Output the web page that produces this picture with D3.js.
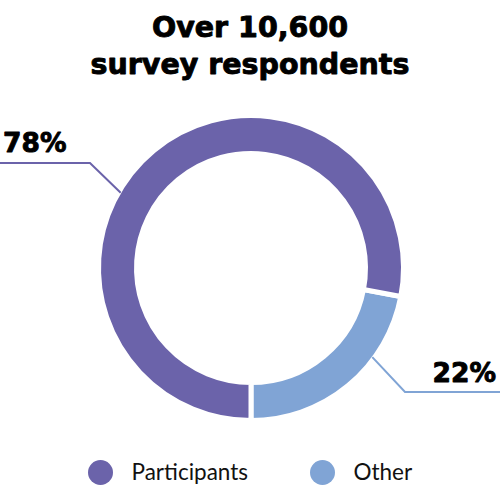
<!DOCTYPE html>
<html>
<head>
<meta charset="utf-8">
<script src="https://cdn.jsdelivr.net/npm/d3@7"></script>
<style>
  html, body { margin: 0; padding: 0; background: #ffffff; }
  svg { display: block; }
</style>
</head>
<body>
<svg id="chart" width="500" height="500"></svg>
<script>
// ---- data ----
const titleLines = ["Over 10,600", "survey respondents"];
const categories = ["Other", "Participants"];
const values = [22, 78];
const labels = ["22%", "78%"];
const legendOrder = ["Participants", "Other"];
const colors = ["#80a4d5", "#6b63aa"];

// ---- layout ----
const W = 500, H = 500;
const cx = 251, cy = 268;
const outerR = 152.5, innerR = 114.5;
const gap = 5;

const svg = d3.select("#chart");
const color = d3.scaleOrdinal().domain(categories).range(colors);

// title
svg.append("g").selectAll("text").data(titleLines).join("text")
  .attr("x", 250)
  .attr("y", (d, i) => 36.5 + i * 37)
  .attr("text-anchor", "middle")
  .attr("font-family", "DejaVu Sans")
  .attr("font-weight", "bold")
  .attr("font-size", 28.5)
  .attr("fill", "#000")
  .attr("stroke", "#000")
  .attr("stroke-width", 0.9)
  .attr("stroke-linejoin", "round")
  .text(d => d);

// donut (counter-clockwise from bottom)
const table = categories.map((c, i) => ({ cat: c, value: values[i], label: labels[i] }));
const pie = d3.pie().value(d => d.value).sort(null)
  .startAngle(Math.PI).endAngle(-Math.PI);
const arcs = pie(table);
const arc = d3.arc().innerRadius(innerR).outerRadius(outerR);

const g = svg.append("g").attr("transform", `translate(${cx},${cy})`);
g.selectAll("path").data(arcs).join("path")
  .attr("d", arc)
  .attr("fill", d => color(d.data.cat))
  .attr("stroke", "#fff")
  .attr("stroke-width", gap)
  .attr("stroke-linejoin", "miter");

// leader lines and labels
const leaders = {
  "Participants": { angle: -60, elbow: [90, 163], end: [0, 163], tx: 3, ty: 151.5, anchor: "start" },
  "Other": { angle: 126.3, elbow: [405, 392], end: [500, 392], tx: 496, ty: 381.5, anchor: "end" }
};
const rLine = 150.5;
arcs.forEach(a => {
  const L = leaders[a.data.cat];
  const t = L.angle * Math.PI / 180;
  const p0 = [cx + rLine * Math.sin(t), cy - rLine * Math.cos(t)];
  svg.append("polyline")
    .attr("points", [p0, L.elbow, L.end].map(p => p.join(",")).join(" "))
    .attr("fill", "none")
    .attr("stroke", color(a.data.cat))
    .attr("stroke-width", 2);
  svg.append("text")
    .attr("x", L.tx).attr("y", L.ty)
    .attr("text-anchor", L.anchor)
    .attr("font-family", "DejaVu Sans")
    .attr("font-weight", "bold")
    .attr("font-size", 26.5)
    .attr("fill", "#000")
    .attr("stroke", "#000")
    .attr("stroke-width", 0.9)
    .attr("stroke-linejoin", "round")
    .text(a.data.label);
});

// legend
const legendX = { "Participants": 100.5, "Other": 322.5 };
const legendY = 472.5;
const lg = svg.append("g").selectAll("g").data(legendOrder).join("g")
  .attr("transform", d => `translate(${legendX[d]},${legendY})`);
lg.append("circle").attr("r", 12.5).attr("fill", d => color(d));
lg.append("text")
  .attr("x", 31).attr("y", 7.5)
  .attr("font-family", "Lato")
  .attr("font-size", 22.5)
  .attr("fill", "#111")
  .text(d => d);
</script>
</body>
</html>
